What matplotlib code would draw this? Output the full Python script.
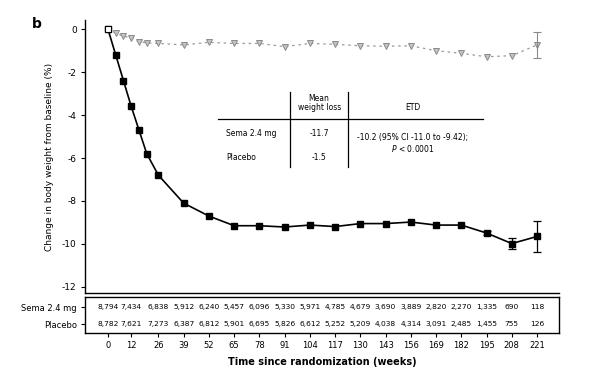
import matplotlib
matplotlib.use("Agg")
import matplotlib.pyplot as plt
import numpy as np

plt.rcParams['font.family'] = ['DejaVu Sans']

# ---- data ----
weeks = [0, 4, 8, 12, 16, 20, 26, 39, 52, 65, 78, 91, 104, 117, 130, 143, 156, 169, 182, 195, 208, 221]
sema = [0.0, -1.2, -2.4, -3.6, -4.7, -5.8, -6.8, -8.1, -8.7, -9.15, -9.15, -9.21, -9.12, -9.19,
        -9.05, -9.05, -8.98, -9.12, -9.12, -9.49, -9.98, -9.65]
sema_err = [0, 0, 0, 0, 0, 0, 0, 0, 0, 0, 0, 0, 0, 0, 0, 0, 0, 0, 0, 0.1, 0.27, 0.72]
placebo = [0.0, -0.19, -0.33, -0.4, -0.59, -0.64, -0.67, -0.74, -0.62, -0.67, -0.67, -0.82, -0.67,
           -0.71, -0.78, -0.8, -0.78, -1.01, -1.13, -1.29, -1.24, -0.74]
placebo_err = [0, 0, 0, 0, 0, 0, 0, 0, 0, 0, 0, 0, 0, 0, 0, 0, 0, 0, 0, 0, 0, 0.6]

tick_weeks = [0, 12, 26, 39, 52, 65, 78, 91, 104, 117, 130, 143, 156, 169, 182, 195, 208, 221]
yticks = [0, -2, -4, -6, -8, -10, -12]
n_sema = [8794, 7434, 6838, 5912, 6240, 5457, 6096, 5330, 5971, 4785, 4679, 3690, 3889, 2820, 2270, 1335, 690, 118]
n_placebo = [8782, 7621, 7273, 6387, 6812, 5901, 6695, 5826, 6612, 5252, 5209, 4038, 4314, 3091, 2485, 1455, 755, 126]
row_labels = ["Sema 2.4 mg", "Placebo"]

tbl_header = ["Mean\nweight loss", "ETD"]
tbl_mean = ["-11.7", "-1.5"]
etd_text = "-10.2 (95% CI -11.0 to -9.42);"
p_text = r"$\it{P}$ < 0.0001"

# ---- figure ----
W, H = 600, 384
fig = plt.figure(figsize=(6, 3.84), dpi=100)
L, R = 85, 559
ax = fig.add_axes([L / W, 1 - 293 / H, (R - L) / W, (293 - 20) / H])
xlim = (-11.8, 232.3)

ax.plot(weeks, placebo, linestyle=(0, (2, 3)), color='#9a9a9a', lw=0.9,
        marker='v', ms=4.3, mfc='#c4c4c4', mec='#8a8a8a', mew=0.7, zorder=3)
ax.plot(weeks, sema, '-', color='black', lw=1.2,
        marker='s', ms=4.5, mfc='black', mec='black', zorder=4)
ax.plot(weeks[:1], sema[:1], 's', ms=4.5, mfc='white', mec='black', mew=0.8, zorder=5)

w = np.array(weeks); s = np.array(sema); se = np.array(sema_err)
p = np.array(placebo); pe = np.array(placebo_err)
m = se > 0
ax.errorbar(w[m], s[m], yerr=se[m], fmt='none', ecolor='black', elinewidth=0.9, capsize=3, capthick=0.9, zorder=4)
m = pe > 0
ax.errorbar(w[m], p[m], yerr=pe[m], fmt='none', ecolor='#8a8a8a', elinewidth=0.8, capsize=3, capthick=0.8, zorder=3)

ax.set_xlim(*xlim)
ax.set_ylim(-12.28, 0.42)
ax.set_yticks(yticks)
ax.set_yticklabels([str(v) if v == 0 else "-" + str(-v) for v in yticks], fontsize=6.5)
ax.set_xticks([])
for sp in ['top', 'right']:
    ax.spines[sp].set_visible(False)
ax.spines['left'].set_linewidth(1.0)
ax.spines['bottom'].set_linewidth(1.0)
ax.tick_params(axis='y', length=3, width=0.8, pad=3)
ax.set_ylabel("Change in body weight from baseline (%)", fontsize=6.5, labelpad=6)

# inset table
tr = ax.transAxes
ax.plot([0.281, 0.840], [0.637, 0.637], color='black', lw=0.9, transform=tr, clip_on=False)
ax.plot([0.432, 0.432], [0.736, 0.462], color='black', lw=0.9, transform=tr, clip_on=False)
ax.plot([0.555, 0.555], [0.736, 0.462], color='black', lw=0.9, transform=tr, clip_on=False)
fs = 5.5
ax.text(0.494, 0.696, tbl_header[0], transform=tr, ha='center', va='center', fontsize=fs, linespacing=1.1)
ax.text(0.692, 0.678, tbl_header[1], transform=tr, ha='center', va='center', fontsize=fs)
ax.text(0.297, 0.586, row_labels[0], transform=tr, ha='left', va='center', fontsize=fs)
ax.text(0.297, 0.495, row_labels[1], transform=tr, ha='left', va='center', fontsize=fs)
ax.text(0.494, 0.586, tbl_mean[0], transform=tr, ha='center', va='center', fontsize=fs)
ax.text(0.494, 0.495, tbl_mean[1], transform=tr, ha='center', va='center', fontsize=fs)
ax.text(0.692, 0.568, etd_text, transform=tr, ha='center', va='center', fontsize=fs)
ax.text(0.692, 0.531, p_text, transform=tr, ha='center', va='center', fontsize=fs)

fig.text(32 / W, 1 - 24 / H, "b", fontsize=10, fontweight='bold', ha='left', va='center')

# number at risk box
tax = fig.add_axes([L / W, 1 - 333 / H, (R - L) / W, 36 / H])
tax.set_xlim(*xlim)
tax.set_ylim(0, 1)
rows_y = [0.72, 0.25]
for yy, vals in zip(rows_y, [n_sema, n_placebo]):
    for xw, v in zip(tick_weeks, vals):
        tax.text(xw, yy, f"{v:,}", ha='center', va='center', fontsize=5.4)
tax.set_yticks(rows_y)
tax.set_yticklabels(row_labels, fontsize=6)
tax.set_xticks(tick_weeks)
tax.set_xticklabels([str(t) for t in tick_weeks], fontsize=6)
tax.tick_params(axis='both', length=3, width=0.8, pad=3)
for sp in tax.spines.values():
    sp.set_linewidth(1.0)
tax.set_xlabel("Time since randomization (weeks)", fontsize=7, fontweight='bold', labelpad=5)

fig.savefig("out.png", dpi=100)
